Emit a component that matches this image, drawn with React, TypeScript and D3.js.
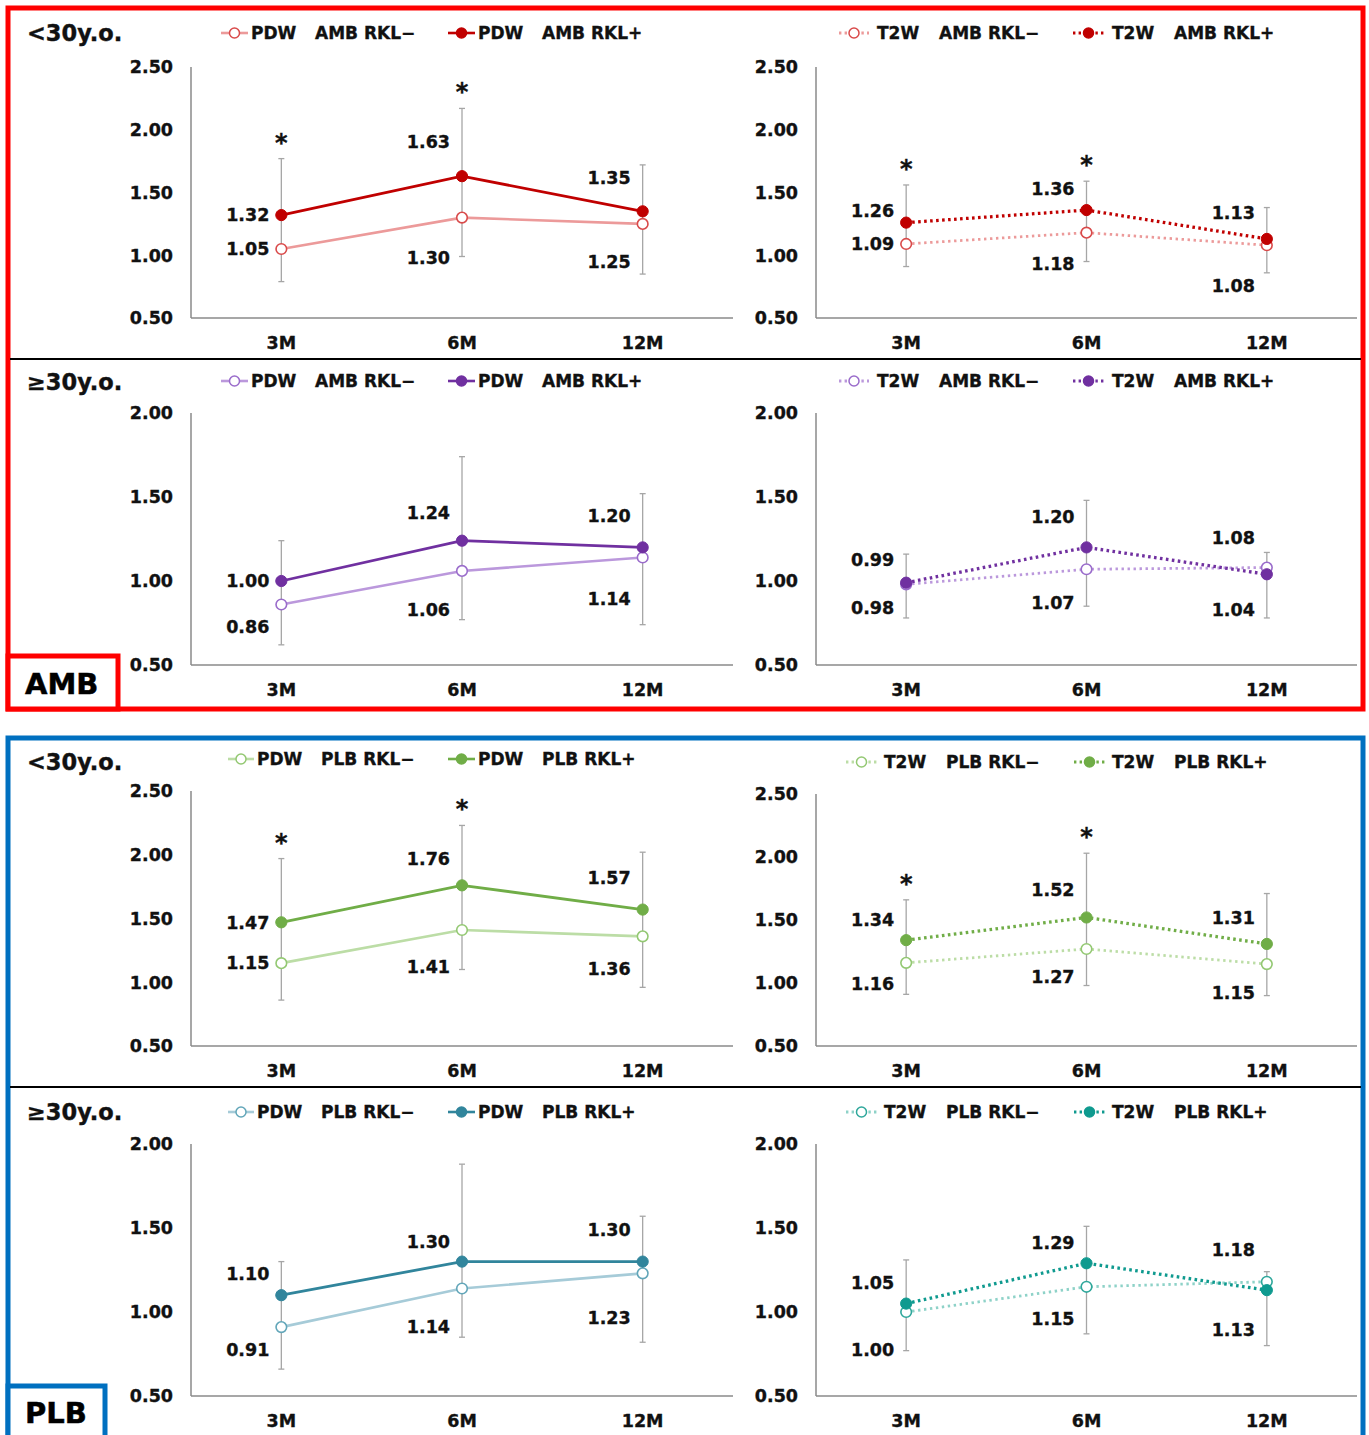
import React from "react";
import * as d3 from "d3";

// ---------- shared categories & ticks ----------
const months = ["3M", "6M", "12M"];
const ticksTall = [0.5, 1.0, 1.5, 2.0, 2.5];
const ticksShort = [0.5, 1.0, 1.5, 2.0];

// ---------- AMB, <30 y.o. ----------
const ambYoungPdwNeg = [1.05, 1.3, 1.25];
const ambYoungPdwPos = [1.32, 1.63, 1.35];
const ambYoungPdwErrLow = [0.79, 0.99, 0.85];
const ambYoungPdwErrHigh = [1.77, 2.17, 1.72];
const ambYoungPdwStars = [true, true, false];

const ambYoungT2wNeg = [1.09, 1.18, 1.08];
const ambYoungT2wPos = [1.26, 1.36, 1.13];
const ambYoungT2wErrLow = [0.91, 0.95, 0.86];
const ambYoungT2wErrHigh = [1.56, 1.59, 1.38];
const ambYoungT2wStars = [true, true, false];

// ---------- AMB, >=30 y.o. ----------
const ambOldPdwNeg = [0.86, 1.06, 1.14];
const ambOldPdwPos = [1.0, 1.24, 1.2];
const ambOldPdwErrLow = [0.62, 0.77, 0.74];
const ambOldPdwErrHigh = [1.24, 1.74, 1.52];
const ambOldPdwStars = [false, false, false];

const ambOldT2wNeg = [0.98, 1.07, 1.08];
const ambOldT2wPos = [0.99, 1.2, 1.04];
const ambOldT2wErrLow = [0.78, 0.85, 0.78];
const ambOldT2wErrHigh = [1.16, 1.48, 1.17];
const ambOldT2wStars = [false, false, false];

// ---------- PLB, <30 y.o. ----------
const plbYoungPdwNeg = [1.15, 1.41, 1.36];
const plbYoungPdwPos = [1.47, 1.76, 1.57];
const plbYoungPdwErrLow = [0.86, 1.1, 0.96];
const plbYoungPdwErrHigh = [1.97, 2.23, 2.02];
const plbYoungPdwStars = [true, true, false];

const plbYoungT2wNeg = [1.16, 1.27, 1.15];
const plbYoungT2wPos = [1.34, 1.52, 1.31];
const plbYoungT2wErrLow = [0.91, 0.98, 0.9];
const plbYoungT2wErrHigh = [1.66, 2.03, 1.71];
const plbYoungT2wStars = [true, true, false];

// ---------- PLB, >=30 y.o. ----------
const plbOldPdwNeg = [0.91, 1.14, 1.23];
const plbOldPdwPos = [1.1, 1.3, 1.3];
const plbOldPdwErrLow = [0.66, 0.85, 0.82];
const plbOldPdwErrHigh = [1.3, 1.88, 1.57];
const plbOldPdwStars = [false, false, false];

const plbOldT2wNeg = [1.0, 1.15, 1.18];
const plbOldT2wPos = [1.05, 1.29, 1.13];
const plbOldT2wErrLow = [0.77, 0.87, 0.8];
const plbOldT2wErrHigh = [1.31, 1.51, 1.24];
const plbOldT2wStars = [false, false, false];

// ---------- styling ----------
const FONT = "'DejaVu Sans', Verdana, sans-serif";
const AXIS = "#8a8a8a";
const ERR = "#a6a6a6";
const INK = "#111";

type Palette = { strong: string; lightLine: string; lightMarker: string };
const RED: Palette = { strong: "#c00000", lightLine: "#ec9a9a", lightMarker: "#d94a4a" };
const PURPLE: Palette = { strong: "#7030a0", lightLine: "#bb98dc", lightMarker: "#9a6ccb" };
const GREEN: Palette = { strong: "#70ad47", lightLine: "#bcdda6", lightMarker: "#93c872" };
const TEAL: Palette = { strong: "#31859c", lightLine: "#a6cbd8", lightMarker: "#62a6b9" };
const TEAL2: Palette = { strong: "#0f9a8f", lightLine: "#8ed2c8", lightMarker: "#2ea79b" };

type Spec = {
  neg: number[];
  pos: number[];
  errLow: number[];
  errHigh: number[];
  stars: boolean[];
  dotted: boolean;
  pal: Palette;
  x0: number;
  x1: number;
  yTop: number;
  yBottom: number;
  ticks: number[];
  negDy: number[];
  posDy: number[];
  legend: { y: number; items: { lx0: number; lx1: number; tx: number; gap: number; a: string; b: string; filled: boolean }[] };
};

const LX0 = 191, LX1 = 733, RX0 = 816, RX1 = 1357;

const panels: Spec[] = [
  {
    neg: ambYoungPdwNeg, pos: ambYoungPdwPos, errLow: ambYoungPdwErrLow, errHigh: ambYoungPdwErrHigh, stars: ambYoungPdwStars,
    dotted: false, pal: RED, x0: LX0, x1: LX1, yTop: 67, yBottom: 318, ticks: ticksTall,
    negDy: [0, 40, 38], posDy: [0, -34, -34],
    legend: { y: 33, items: [
      { lx0: 221, lx1: 248, tx: 251, gap: 64, a: "PDW", b: "AMB RKL\u2212", filled: false },
      { lx0: 448, lx1: 475, tx: 478, gap: 64, a: "PDW", b: "AMB RKL+", filled: true },
    ] },
  },
  {
    neg: ambYoungT2wNeg, pos: ambYoungT2wPos, errLow: ambYoungT2wErrLow, errHigh: ambYoungT2wErrHigh, stars: ambYoungT2wStars,
    dotted: true, pal: RED, x0: RX0, x1: RX1, yTop: 67, yBottom: 318, ticks: ticksTall,
    negDy: [0, 31, 40], posDy: [-12, -21, -26],
    legend: { y: 33, items: [
      { lx0: 839, lx1: 869, tx: 877, gap: 62, a: "T2W", b: "AMB RKL\u2212", filled: false },
      { lx0: 1073, lx1: 1104, tx: 1112, gap: 62, a: "T2W", b: "AMB RKL+", filled: true },
    ] },
  },
  {
    neg: ambOldPdwNeg, pos: ambOldPdwPos, errLow: ambOldPdwErrLow, errHigh: ambOldPdwErrHigh, stars: ambOldPdwStars,
    dotted: false, pal: PURPLE, x0: LX0, x1: LX1, yTop: 413, yBottom: 665, ticks: ticksShort,
    negDy: [22, 39, 41], posDy: [0, -28, -32],
    legend: { y: 381, items: [
      { lx0: 221, lx1: 248, tx: 251, gap: 64, a: "PDW", b: "AMB RKL\u2212", filled: false },
      { lx0: 448, lx1: 475, tx: 478, gap: 64, a: "PDW", b: "AMB RKL+", filled: true },
    ] },
  },
  {
    neg: ambOldT2wNeg, pos: ambOldT2wPos, errLow: ambOldT2wErrLow, errHigh: ambOldT2wErrHigh, stars: ambOldT2wStars,
    dotted: true, pal: PURPLE, x0: RX0, x1: RX1, yTop: 413, yBottom: 665, ticks: ticksShort,
    negDy: [23, 33, -30], posDy: [-23, -31, 35],
    legend: { y: 381, items: [
      { lx0: 839, lx1: 869, tx: 877, gap: 62, a: "T2W", b: "AMB RKL\u2212", filled: false },
      { lx0: 1073, lx1: 1104, tx: 1112, gap: 62, a: "T2W", b: "AMB RKL+", filled: true },
    ] },
  },
  {
    neg: plbYoungPdwNeg, pos: plbYoungPdwPos, errLow: plbYoungPdwErrLow, errHigh: plbYoungPdwErrHigh, stars: plbYoungPdwStars,
    dotted: false, pal: GREEN, x0: LX0, x1: LX1, yTop: 791, yBottom: 1046, ticks: ticksTall,
    negDy: [0, 37, 32], posDy: [0, -27, -32],
    legend: { y: 759, items: [
      { lx0: 228, lx1: 254, tx: 257, gap: 64, a: "PDW", b: "PLB RKL\u2212", filled: false },
      { lx0: 448, lx1: 475, tx: 478, gap: 64, a: "PDW", b: "PLB RKL+", filled: true },
    ] },
  },
  {
    neg: plbYoungT2wNeg, pos: plbYoungT2wPos, errLow: plbYoungT2wErrLow, errHigh: plbYoungT2wErrHigh, stars: plbYoungT2wStars,
    dotted: true, pal: GREEN, x0: RX0, x1: RX1, yTop: 794, yBottom: 1046, ticks: ticksTall,
    negDy: [21, 28, 29], posDy: [-20, -28, -26],
    legend: { y: 762, items: [
      { lx0: 846, lx1: 877, tx: 884, gap: 62, a: "T2W", b: "PLB RKL\u2212", filled: false },
      { lx0: 1074, lx1: 1105, tx: 1112, gap: 62, a: "T2W", b: "PLB RKL+", filled: true },
    ] },
  },
  {
    neg: plbOldPdwNeg, pos: plbOldPdwPos, errLow: plbOldPdwErrLow, errHigh: plbOldPdwErrHigh, stars: plbOldPdwStars,
    dotted: false, pal: TEAL, x0: LX0, x1: LX1, yTop: 1144, yBottom: 1396, ticks: ticksShort,
    negDy: [23, 38, 44], posDy: [-22, -20, -32],
    legend: { y: 1112, items: [
      { lx0: 228, lx1: 254, tx: 257, gap: 64, a: "PDW", b: "PLB RKL\u2212", filled: false },
      { lx0: 448, lx1: 475, tx: 478, gap: 64, a: "PDW", b: "PLB RKL+", filled: true },
    ] },
  },
  {
    neg: plbOldT2wNeg, pos: plbOldT2wPos, errLow: plbOldT2wErrLow, errHigh: plbOldT2wErrHigh, stars: plbOldT2wStars,
    dotted: true, pal: TEAL2, x0: RX0, x1: RX1, yTop: 1144, yBottom: 1396, ticks: ticksShort,
    negDy: [38, 32, -32], posDy: [-21, -21, 40],
    legend: { y: 1112, items: [
      { lx0: 846, lx1: 877, tx: 884, gap: 62, a: "T2W", b: "PLB RKL\u2212", filled: false },
      { lx0: 1074, lx1: 1105, tx: 1112, gap: 62, a: "T2W", b: "PLB RKL+", filled: true },
    ] },
  },
];

const groupTitles = [
  { text: "<30y.o.", y: 33 },
  { text: "\u226530y.o.", y: 382 },
  { text: "<30y.o.", y: 762 },
  { text: "\u226530y.o.", y: 1112 },
];

const lblStyle = {
  fontFamily: FONT, fontWeight: 700, fontSize: 17.5, fill: INK, stroke: INK, strokeWidth: 0.35,
} as const;
const legStyle = { ...lblStyle, fontSize: 17 } as const;

function Panel({ s }: { s: Spec }) {
  const x = d3.scaleBand<string>().domain(months).range([s.x0, s.x1]);
  const cx = (i: number) => (x(months[i]) as number) + x.bandwidth() / 2;
  const yMax = s.ticks[s.ticks.length - 1];
  const y = d3.scaleLinear().domain([0.5, yMax]).range([s.yBottom, s.yTop]);
  const line = d3
    .line<number>()
    .x((_, i) => cx(i))
    .y((v) => y(v));
  const fmt = d3.format(".2f");

  const dashStrong = s.dotted ? "2.6 3.4" : undefined;
  const dashLight = s.dotted ? "2.4 3.6" : undefined;

  return (
    <g>
      {/* axes */}
      <line x1={s.x0} x2={s.x0} y1={s.yTop} y2={s.yBottom} stroke={AXIS} strokeWidth={1.5} />
      <line x1={s.x0} x2={s.x1} y1={s.yBottom} y2={s.yBottom} stroke={AXIS} strokeWidth={1.5} />
      {s.ticks.map((t) => (
        <text key={t} x={s.x0 - 18} y={y(t)} dy="0.36em" textAnchor="end" style={lblStyle}>
          {fmt(t)}
        </text>
      ))}
      {months.map((m, i) => (
        <text key={m} x={cx(i)} y={s.yBottom + 25} dy="0.36em" textAnchor="middle" style={lblStyle}>
          {m}
        </text>
      ))}

      {/* error bars */}
      {months.map((m, i) => (
        <g key={"e" + m} stroke={ERR} strokeWidth={1.3}>
          <line x1={cx(i)} x2={cx(i)} y1={y(s.errLow[i])} y2={y(s.errHigh[i])} />
          <line x1={cx(i) - 3} x2={cx(i) + 3} y1={y(s.errLow[i])} y2={y(s.errLow[i])} />
          <line x1={cx(i) - 3} x2={cx(i) + 3} y1={y(s.errHigh[i])} y2={y(s.errHigh[i])} />
        </g>
      ))}
      {months.map((m, i) =>
        s.stars[i] ? (
          <text key={"s" + m} x={cx(i)} y={y(s.errHigh[i]) - 8} textAnchor="middle"
            style={{ ...lblStyle, fontSize: 24 }}>
            *
          </text>
        ) : null
      )}

      {/* RKL− series */}
      <path d={line(s.neg) as string} fill="none" stroke={s.pal.lightLine}
        strokeWidth={s.dotted ? 2.8 : 2.6} strokeDasharray={dashLight} />
      {s.neg.map((v, i) => (
        <circle key={"n" + i} cx={cx(i)} cy={y(v)} r={5.3} fill="#fff" stroke={s.pal.lightMarker} strokeWidth={1.6} />
      ))}
      {/* RKL+ series */}
      <path d={line(s.pos) as string} fill="none" stroke={s.pal.strong}
        strokeWidth={s.dotted ? 3.3 : 2.8} strokeDasharray={dashStrong} />
      {s.pos.map((v, i) => (
        <circle key={"p" + i} cx={cx(i)} cy={y(v)} r={5.6} fill={s.pal.strong} stroke={s.pal.strong} strokeWidth={1} />
      ))}

      {/* value labels */}
      {s.pos.map((v, i) => (
        <text key={"lp" + i} x={cx(i) - 12} y={y(v) + s.posDy[i]} dy="0.36em" textAnchor="end" style={lblStyle}>
          {fmt(v)}
        </text>
      ))}
      {s.neg.map((v, i) => (
        <text key={"ln" + i} x={cx(i) - 12} y={y(v) + s.negDy[i]} dy="0.36em" textAnchor="end" style={lblStyle}>
          {fmt(v)}
        </text>
      ))}

      {/* legend */}
      {s.legend.items.map((it, k) => {
        const mx = (it.lx0 + it.lx1) / 2;
        const ly = s.legend.y;
        return (
          <g key={"lg" + k}>
            <line x1={it.lx0} x2={it.lx1} y1={ly} y2={ly}
              stroke={it.filled ? s.pal.strong : s.pal.lightLine}
              strokeWidth={s.dotted ? 2.8 : 2.6}
              strokeDasharray={s.dotted ? "2.4 3.2" : undefined} />
            <circle cx={mx} cy={ly} r={5}
              fill={it.filled ? s.pal.strong : "#fff"}
              stroke={it.filled ? s.pal.strong : s.pal.lightMarker} strokeWidth={1.5} />
            <text x={it.tx} y={ly} dy="0.36em" style={legStyle}>{it.a}</text>
            <text x={it.tx + it.gap} y={ly} dy="0.36em" style={legStyle}>{it.b}</text>
          </g>
        );
      })}
    </g>
  );
}

export default function App() {
  const boxText = { fontFamily: FONT, fontWeight: 700, fontSize: 29, fill: "#000", stroke: "#000", strokeWidth: 0.5 };
  return (
    <svg width={1369} height={1435} viewBox="0 0 1369 1435"
      style={{ position: "absolute", left: 0, top: 0, background: "#fff" }}>
      <rect x={0} y={0} width={1369} height={1435} fill="#fff" />

      {/* AMB group frame */}
      <rect x={8} y={8} width={1355} height={701} fill="none" stroke="#ff0000" strokeWidth={5} />
      <line x1={10} x2={1361} y1={359} y2={359} stroke="#000" strokeWidth={2} />
      <rect x={8} y={656} width={110} height={53} fill="#fff" stroke="#ff0000" strokeWidth={5} />
      <text x={25} y={684} dy="0.36em" style={boxText}>AMB</text>

      {/* PLB group frame */}
      <rect x={8} y={738} width={1355} height={720} fill="none" stroke="#0070c0" strokeWidth={5} />
      <line x1={10} x2={1361} y1={1087} y2={1087} stroke="#000" strokeWidth={2} />
      <rect x={8} y={1386} width={97} height={70} fill="#fff" stroke="#0070c0" strokeWidth={5} />
      <text x={25} y={1413} dy="0.36em" style={boxText}>PLB</text>

      {groupTitles.map((t, i) => (
        <text key={i} x={27} y={t.y} dy="0.36em"
          style={{ fontFamily: FONT, fontWeight: 700, fontSize: 22.5, fill: INK, stroke: INK, strokeWidth: 0.4 }}>
          {t.text}
        </text>
      ))}

      {panels.map((s, i) => (
        <Panel key={i} s={s} />
      ))}
    </svg>
  );
}
